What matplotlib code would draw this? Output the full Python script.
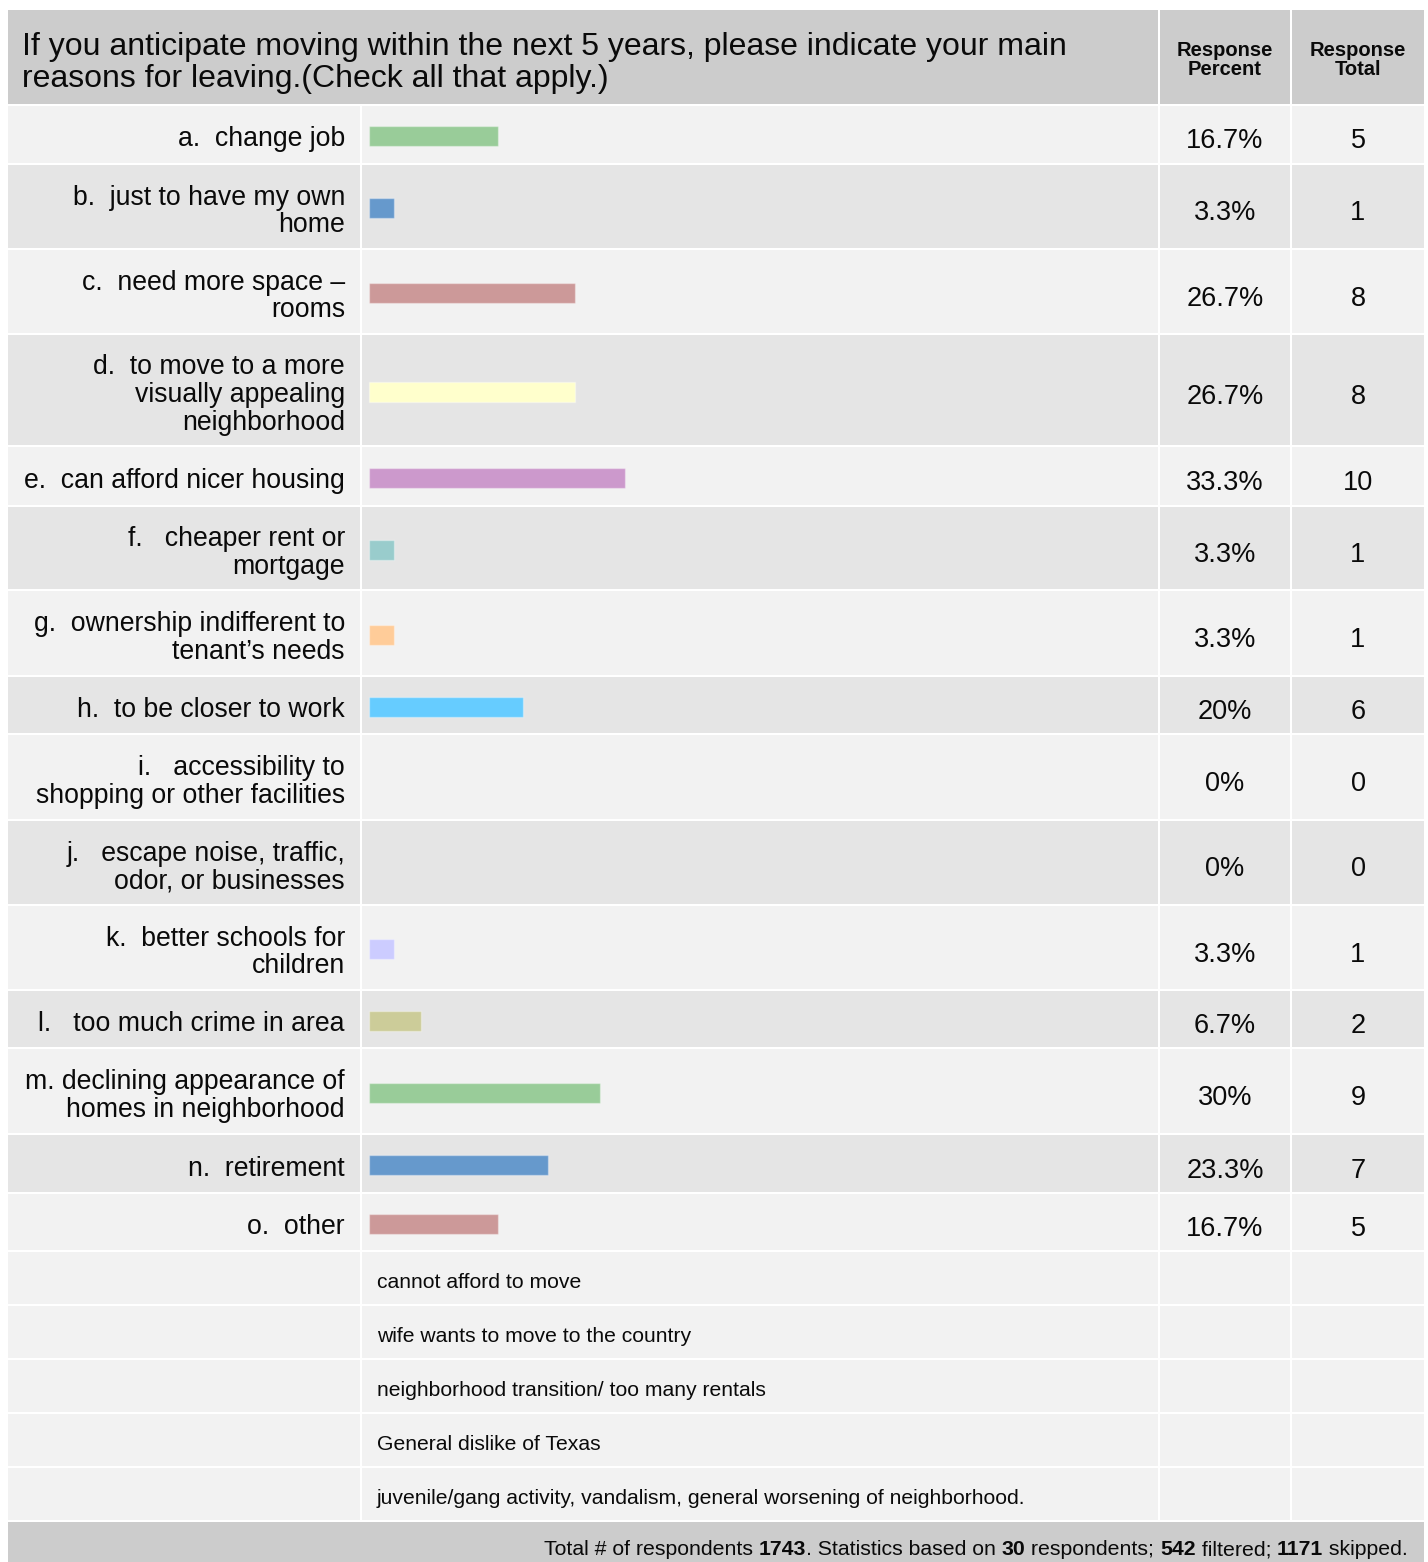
import matplotlib.pyplot as plt
from matplotlib.patches import Rectangle

plt.rcParams['font.family'] = ['Liberation Sans', 'DejaVu Sans']

# survey answers
labels = [
    "a.  change job",
    "b.  just to have my own\nhome",
    "c.  need more space \u2013\nrooms",
    "d.  to move to a more\nvisually appealing\nneighborhood",
    "e.  can afford nicer housing",
    "f.   cheaper rent or\nmortgage",
    "g.  ownership indifferent to\ntenant\u2019s needs",
    "h.  to be closer to work",
    "i.   accessibility to\nshopping or other facilities",
    "j.   escape noise, traffic,\nodor, or businesses",
    "k.  better schools for\nchildren",
    "l.   too much crime in area",
    "m. declining appearance of\nhomes in neighborhood",
    "n.  retirement",
    "o.  other",
]
percents = [16.7, 3.3, 26.7, 26.7, 33.3, 3.3, 3.3, 20, 0, 0, 3.3, 6.7, 30, 23.3, 16.7]
totals = [5, 1, 8, 8, 10, 1, 1, 6, 0, 0, 1, 2, 9, 7, 5]
other_answers = [
    "cannot afford to move",
    "wife wants to move to the country",
    "neighborhood transition/ too many rentals",
    "General dislike of Texas",
    "juvenile/gang activity, vandalism, general worsening of neighborhood.",
]
title = ("If you anticipate moving within the next 5 years, please indicate your main\n"
         "reasons for leaving.(Check all that apply.)")
footer_parts = [
    ("Total # of respondents ", "normal"), ("1743", "bold"),
    (". Statistics based on ", "normal"), ("30", "bold"),
    (" respondents; ", "normal"), ("542", "bold"),
    (" filtered; ", "normal"), ("1171", "bold"),
    (" skipped.", "normal"),
]

bar_colors = ["#99cc99", "#6699cc", "#cc9999", "#ffffcc", "#cc99cc", "#99cccc",
              "#ffcc99", "#66ccff", "#ccffcc", "#ffcccc", "#ccccff", "#cccc99",
              "#99cc99", "#6699cc", "#cc9999"]

# layout in pixels
W, H = 1428, 1562
LEFT, RIGHT = 8, 1424
COL_LABEL = (8, 360)
COL_BAR = (362, 1158)
COL_PCT = (1160, 1290)
COL_TOT = (1292, 1424)
HEAD_TOP, HEAD_BOT = 10, 104
GAP = 2
row_heights = [57, 83, 83, 110, 58, 82, 84, 56, 84, 83, 83, 56, 84, 57, 56]
other_height = 52
LIGHT, DARK, HEAD = "#f2f2f2", "#e5e5e5", "#cccccc"
INK = "#0a0a0a"
PX_PER_PCT = 7.7
BAR_PAD = 7

fig = plt.figure(figsize=(W / 100, H / 100), dpi=100)
ax = fig.add_axes([0, 0, 1, 1])
ax.set_xlim(0, W)
ax.set_ylim(H, 0)
ax.axis('off')


def cell(x0, x1, y0, y1, color):
    ax.add_patch(Rectangle((x0, y0), x1 - x0, y1 - y0, facecolor=color,
                           edgecolor='none', zorder=0))


# header
cell(LEFT, COL_BAR[1], HEAD_TOP, HEAD_BOT, HEAD)
cell(COL_PCT[0], COL_PCT[1], HEAD_TOP, HEAD_BOT, HEAD)
cell(COL_TOT[0], COL_TOT[1], HEAD_TOP, HEAD_BOT, HEAD)
ax.text(22, 63, title, fontsize=23, ha='left', va='center', linespacing=1.05,
        color=INK)
for col, txt in [(COL_PCT, "Response\nPercent"), (COL_TOT, "Response\nTotal")]:
    ax.text((col[0] + col[1]) / 2, 60, txt, fontsize=14.5, fontweight='bold',
            ha='center', va='center', linespacing=1.02, color=INK)

# answer rows
centers = []
y = HEAD_BOT + GAP
for i, (lab, h) in enumerate(zip(labels, row_heights)):
    bg = LIGHT if i % 2 == 0 else DARK
    for col in (COL_LABEL, COL_BAR, COL_PCT, COL_TOT):
        cell(col[0], col[1], y, y + h, bg)
    c = y + h / 2
    centers.append(c + 1.5)
    ax.text(COL_LABEL[1] - 15, c + 5, lab, fontsize=19.2, ha='right',
            va='center', linespacing=1.08, color=INK)
    ax.text((COL_PCT[0] + COL_PCT[1]) / 2, c + 7, f"{percents[i]:g}%",
            fontsize=19.5, ha='center', va='center', color=INK)
    ax.text((COL_TOT[0] + COL_TOT[1]) / 2, c + 7, str(totals[i]),
            fontsize=19.5, ha='center', va='center', color=INK)
    y += h + GAP

# written "other" answers
for txt in other_answers:
    for col in (COL_LABEL, COL_BAR, COL_PCT, COL_TOT):
        cell(col[0], col[1], y, y + other_height, LIGHT)
    ax.text(COL_BAR[0] + 15, y + other_height / 2 + 4, txt, fontsize=15.2,
            ha='left', va='center', color=INK)
    y += other_height + GAP

# footer band; mixed-weight pieces measured, then set on one baseline
cell(LEFT, RIGHT, y, H, HEAD)
renderer = fig.canvas.get_renderer()
base = H - 7
pieces = [ax.text(0, base, txt, fontsize=15.3, fontweight=wt, ha='left',
                  va='baseline', color=INK) for txt, wt in footer_parts]
widths = [p.get_window_extent(renderer).width for p in pieces]
x = 1408 - sum(widths)
for p, w in zip(pieces, widths):
    p.set_x(x)
    x += w

# bars share the pixel rows but use a percent scale on x
bx = fig.add_axes([COL_BAR[0] / W, 0, (COL_BAR[1] - COL_BAR[0]) / W, 1])
bx.set_ylim(H, 0)
bx.set_xlim(-BAR_PAD / PX_PER_PCT, (COL_BAR[1] - COL_BAR[0] - BAR_PAD) / PX_PER_PCT)
bx.patch.set_alpha(0)
bx.axis('off')
edge_widths = [1 if p > 0 else 0 for p in percents]
bx.barh(centers, percents, height=20, color=bar_colors,
        edgecolor=(1, 1, 1, 0.35), linewidth=edge_widths)

fig.savefig("out.png", dpi=100)
